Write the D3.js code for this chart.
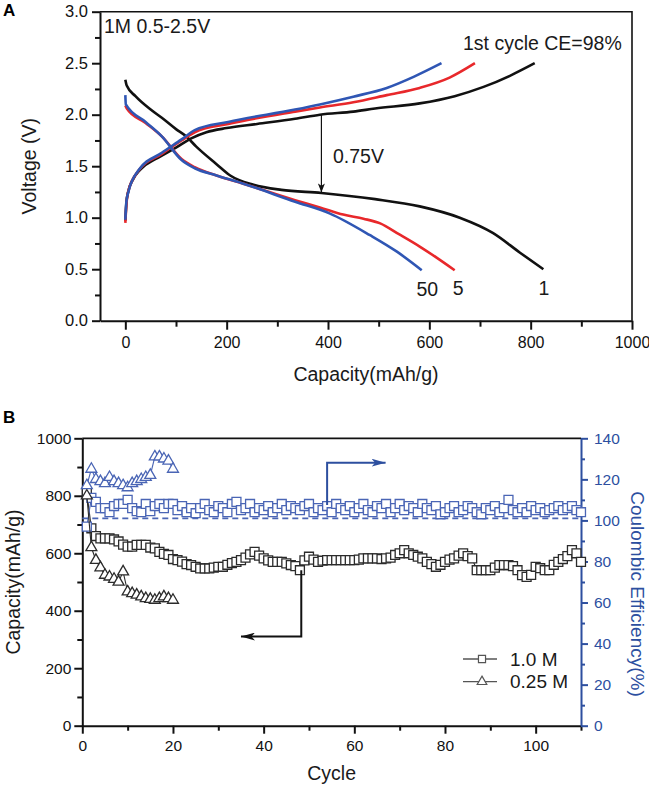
<!DOCTYPE html>
<html>
<head>
<meta charset="utf-8">
<script src="https://cdn.jsdelivr.net/npm/d3@7"></script>
<style>
  body { margin: 0; background: #fff; }
  svg { display: block; font-family: "Liberation Sans", Arial, sans-serif; }
</style>
</head>
<body>
<div id="chart"></div>
<script>
// ---- Panel A: charge / discharge profiles, [capacity mAh/g, voltage V]
const cycle1Charge = [[0,0.97],[2,1.14],[5,1.24],[15,1.37],[30,1.47],[60,1.57],[100,1.68],[130,1.77],[160,1.83],[200,1.87],[260,1.91],[335,1.96],[384,2.0],[450,2.03],[493,2.06],[581,2.11],[650,2.18],[707,2.27],[760,2.38],[808,2.5]];
const cycle1Discharge = [[0,2.34],[3,2.28],[20,2.18],[50,2.05],[72,1.97],[100,1.86],[120,1.79],[140,1.69],[180,1.52],[207,1.41],[253,1.32],[308,1.27],[387,1.24],[493,1.18],[581,1.11],[660,1.0],[726,0.85],[779,0.66],[825,0.5]];
const cycle5Charge = [[0,0.95],[2,1.12],[5,1.24],[25,1.45],[72,1.62],[111,1.75],[137,1.83],[203,1.91],[335,2.03],[384,2.07],[450,2.12],[516,2.19],[581,2.26],[640,2.36],[690,2.5]];
const cycle5Discharge = [[0,2.09],[3,2.06],[40,1.92],[72,1.79],[111,1.57],[137,1.49],[180,1.41],[230,1.335],[335,1.17],[384,1.10],[430,1.03],[470,0.99],[503,0.945],[540,0.84],[581,0.72],[615,0.61],[650,0.49]];
const cycle50Charge = [[0,0.98],[2,1.15],[6,1.25],[26,1.46],[72,1.63],[111,1.76],[137,1.85],[203,1.93],[335,2.05],[384,2.10],[450,2.175],[516,2.26],[570,2.37],[624,2.5]];
const cycle50Discharge = [[0,2.19],[1,2.10],[40,1.93],[72,1.79],[111,1.56],[137,1.48],[180,1.41],[230,1.335],[335,1.155],[404,1.04],[483,0.83],[536,0.67],[585,0.49]];

const xTicksA = [0, 200, 400, 600, 800, 1000];
const xMinorA = [100, 300, 500, 700, 900];
const yTicksA = [0, 0.5, 1.0, 1.5, 2.0, 2.5, 3.0];
const yMinorA = [0.25, 0.75, 1.25, 1.75, 2.25, 2.75];

// ---- Panel B: cycling, capacity (mAh/g) and coulombic efficiency (%)
const cycles1M = d3.range(1, 111);
const capacity1M = [810,687,660,652,652,652,648,641,630,623, 623,629,629,629,620,617,605,598,594,580,
  576,571,562,559,553,547,547,547,550,553, 553,560,566,570,576,585,596,605,592,582,
  575,570,570,570,565,559,555,541,575,588, 578,570,574,576,576,576,576,576,576,576,
  578,582,582,582,582,580,582,585,594,600, 611,600,594,588,582,570,562,553,560,570,
  578,582,592,600,590,582,541,541,541,541, 550,559,559,559,555,541,524,518,525,553,
  548,541,541,560,570,580,590,611,600,570];
const ce1M = [97,111,109,106,106,104,107,108,108,110, 106,104.5,104,108,104.5,107,108,106,108,108,
  105,107,104,106,103.5,106,108,105,104,107, 106,104,108,109,105,106,108,104,106,105,
  107,104,106,108,105,107,106,105,107,108, 104,106,105,107,104,108,106,105,107,104,
  106,108,105,104,107,106,108,104,106,108, 105,107,106,104,108,106,105,107,103,104,
  106,107,104,105,107,106,104,103,106,105, 107,104,106,110,105,104,106,104,107,105,
  106,104,105,106,107,105,106,107,105,104];
const cycles025M = d3.range(1, 21);
const capacity025M = [800,620,576,550,524,518,510,500,536,466, 460,455,449,443,440,437,443,449,443,437];
const ce025M = [117,125,120,119,118,121,119,118,117,116, 118,119,120,121,122,131,131,130,129,125];
const ceReference = 101;

const xTicksB = [0, 20, 40, 60, 80, 100];
const xMinorB = [10, 30, 50, 70, 90, 110];
const yTicksB = [0, 200, 400, 600, 800, 1000];
const yMinorB = [100, 300, 500, 700, 900];
const ceTicks = [0, 20, 40, 60, 80, 100, 120, 140];
const ceMinor = [10, 30, 50, 70, 90, 110, 130];

const legendItems = ['1.0 M', '0.25 M'];

const black = '#111';
const red = '#e8282b';
const blueA = '#2f56b4';
const blueB = '#4a65b5';
const blueAxis = '#2d4f9f';
const gray = '#2b2b2b';

const svg = d3.select('#chart').append('svg')
  .attr('width', 649).attr('height', 787);

const defs = svg.append('defs');
function arrowMarker(id, color, w, h) {
  defs.append('marker')
    .attr('id', id)
    .attr('viewBox', `0 0 ${w} ${h}`)
    .attr('refX', w).attr('refY', h / 2)
    .attr('markerUnits', 'userSpaceOnUse')
    .attr('markerWidth', w).attr('markerHeight', h)
    .attr('orient', 'auto')
    .append('path')
    .attr('d', `M0,0L${w},${h / 2}L0,${h}L${w * 0.25},${h / 2}Z`)
    .attr('fill', color);
}
arrowMarker('arrA', black, 9, 7);
arrowMarker('arrBlue', blueAxis, 14, 8);
arrowMarker('arrBlack', black, 14, 8);

function styleAxis(g, color, size) {
  g.attr('font-family', null).attr('font-size', size);
  g.select('.domain').attr('stroke', color).attr('stroke-width', 2);
  g.selectAll('.tick line').attr('stroke', color).attr('stroke-width', 2);
  g.selectAll('.tick text').attr('fill', color);
}

// ================= Panel A =================
const xA = d3.scaleLinear().domain([-50, 1000]).range([100, 632]);
const yA = d3.scaleLinear().domain([0, 3]).range([320.7, 11.7]);

const gA = svg.append('g');

// frame (top, right)
gA.append('path')
  .attr('d', `M${xA(-50)},${yA(3)}H${xA(1000)}V${yA(0)}`)
  .attr('fill', 'none').attr('stroke', black).attr('stroke-width', 1.6);

gA.append('g')
  .attr('transform', `translate(0,${yA(0)})`)
  .call(d3.axisBottom(xA).tickValues(xMinorA).tickSize(6).tickFormat(''))
  .call(g => { styleAxis(g, black, 16); g.select('.domain').remove(); });
gA.append('g')
  .attr('transform', `translate(0,${yA(0)})`)
  .call(d3.axisBottom(xA).tickValues(xTicksA).tickSize(9).tickPadding(7).tickSizeOuter(0)
    .tickFormat(d3.format('d')))
  .call(g => styleAxis(g, black, 16));

gA.append('g')
  .attr('transform', `translate(${xA(-50)},0)`)
  .call(d3.axisLeft(yA).tickValues(yMinorA).tickSize(5).tickFormat(''))
  .call(g => { styleAxis(g, black, 16); g.select('.domain').remove(); });
gA.append('g')
  .attr('transform', `translate(${xA(-50)},0)`)
  .call(d3.axisLeft(yA).tickValues(yTicksA).tickSize(8).tickPadding(4).tickSizeOuter(0)
    .tickFormat(d3.format('.1f')))
  .call(g => styleAxis(g, black, 16.5));

const lineA = d3.line()
  .x(d => xA(d[0])).y(d => yA(d[1]))
  .curve(d3.curveMonotoneX);

const curvesA = [
  { data: cycle1Charge, color: black },
  { data: cycle1Discharge, color: black },
  { data: cycle5Charge, color: red },
  { data: cycle5Discharge, color: red },
  { data: cycle50Charge, color: blueA },
  { data: cycle50Discharge, color: blueA }
];
gA.selectAll('path.curve')
  .data(curvesA)
  .enter()
  .append('path')
  .attr('class', 'curve')
  .attr('d', d => lineA(d.data))
  .attr('fill', 'none')
  .attr('stroke', d => d.color)
  .attr('stroke-width', 2.6)
  .attr('stroke-linejoin', 'round');

// 0.75 V gap arrow
gA.append('line')
  .attr('x1', xA(387)).attr('y1', yA(2.0))
  .attr('x2', xA(387)).attr('y2', yA(1.245))
  .attr('stroke', black).attr('stroke-width', 1.2)
  .attr('marker-end', 'url(#arrA)');

const textA = [
  { t: '1M 0.5-2.5V', x: 104, y: 33, anchor: 'start' },
  { t: '1st cycle CE=98%', x: 463, y: 50, anchor: 'start' },
  { t: '0.75V', x: 333, y: 163, anchor: 'start' },
  { t: '50', x: xA(596), y: yA(0.24), anchor: 'middle' },
  { t: '5', x: xA(657), y: yA(0.245), anchor: 'middle' },
  { t: '1', x: xA(826), y: yA(0.245), anchor: 'middle' }
];
gA.selectAll('text.note')
  .data(textA)
  .enter()
  .append('text')
  .attr('class', 'note')
  .attr('x', d => d.x).attr('y', d => d.y)
  .attr('text-anchor', d => d.anchor)
  .attr('font-size', 19.5)
  .attr('fill', '#1a1a1a')
  .text(d => d.t);

gA.append('text')
  .attr('transform', `translate(29,${(yA(0) + yA(3)) / 2}) rotate(-90)`)
  .attr('text-anchor', 'middle').attr('dominant-baseline', 'central')
  .attr('font-size', 19.5).attr('fill', '#1a1a1a')
  .text('Voltage (V)');
gA.append('text')
  .attr('x', (xA(-50) + xA(1000)) / 2).attr('y', 381)
  .attr('text-anchor', 'middle')
  .attr('font-size', 19.5).attr('fill', '#1a1a1a')
  .text('Capacity(mAh/g)');

svg.append('text').attr('x', 3).attr('y', 16)
  .attr('font-size', 17).attr('font-weight', 'bold').text('A');

// ================= Panel B =================
const xB = d3.scaleLinear().domain([0, 110]).range([82.3, 581]);
const yB = d3.scaleLinear().domain([0, 1000]).range([725.7, 438.3]);
const yCE = d3.scaleLinear().domain([0, 140]).range([725.7, 438.3]);

const gB = svg.append('g');

gB.append('line')
  .attr('x1', xB(0)).attr('x2', xB(110))
  .attr('y1', yB(1000)).attr('y2', yB(1000))
  .attr('stroke', black).attr('stroke-width', 1.8);

gB.append('g')
  .attr('transform', `translate(0,${yB(0)})`)
  .call(d3.axisBottom(xB).tickValues(xMinorB).tickSize(5).tickFormat(''))
  .call(g => { styleAxis(g, black, 15.5); g.select('.domain').remove(); });
gB.append('g')
  .attr('transform', `translate(0,${yB(0)})`)
  .call(d3.axisBottom(xB).tickValues(xTicksB).tickSize(8).tickPadding(6).tickSizeOuter(0)
    .tickFormat(d3.format('d')))
  .call(g => styleAxis(g, black, 15.5));

gB.append('g')
  .attr('transform', `translate(${xB(0)},0)`)
  .call(d3.axisLeft(yB).tickValues(yMinorB).tickSize(5).tickFormat(''))
  .call(g => { styleAxis(g, black, 15.5); g.select('.domain').remove(); });
gB.append('g')
  .attr('transform', `translate(${xB(0)},0)`)
  .call(d3.axisLeft(yB).tickValues(yTicksB).tickSize(8).tickPadding(3).tickSizeOuter(0)
    .tickFormat(d3.format('d')))
  .call(g => styleAxis(g, black, 15.5));

gB.append('g')
  .attr('transform', `translate(${xB(110)},0)`)
  .call(d3.axisRight(yCE).tickValues(ceMinor).tickSize(4).tickFormat(''))
  .call(g => { styleAxis(g, blueAxis, 15.5); g.select('.domain').remove(); });
gB.append('g')
  .attr('transform', `translate(${xB(110)},0)`)
  .call(d3.axisRight(yCE).tickValues(ceTicks).tickSize(7).tickPadding(6).tickSizeOuter(0))
  .call(g => styleAxis(g, blueAxis, 15.5));

// reference CE line
gB.append('line')
  .attr('x1', xB(0)).attr('x2', xB(110))
  .attr('y1', yCE(ceReference)).attr('y2', yCE(ceReference))
  .attr('stroke', blueB).attr('stroke-width', 1.6)
  .attr('stroke-dasharray', '6,4');

const squareSym = d3.symbol(d3.symbolSquare).size(80);
const triSym = d3.symbol(d3.symbolTriangle).size(52);

function drawSeries(xs, ys, yScale, color, sym) {
  const pts = xs.map((c, i) => [c, ys[i]]);
  gB.append('path')
    .attr('d', d3.line().x(d => xB(d[0])).y(d => yScale(d[1]))(pts))
    .attr('fill', 'none').attr('stroke', color).attr('stroke-width', 1.1);
  gB.append('g').selectAll('path')
    .data(pts)
    .enter()
    .append('path')
    .attr('transform', d => `translate(${xB(d[0])},${yScale(d[1])})`)
    .attr('d', sym)
    .attr('fill', '#fff')
    .attr('stroke', color)
    .attr('stroke-width', 1.3);
}
drawSeries(cycles1M, capacity1M, yB, gray, squareSym);
drawSeries(cycles1M, ce1M, yCE, blueB, squareSym);
drawSeries(cycles025M, capacity025M, yB, gray, triSym);
drawSeries(cycles025M, ce025M, yCE, blueB, triSym);

// guide arrows
const blueArrow = [[54, 107.5], [54, 128.1], [66.9, 128.1]];
const blackArrow = [[48.3, 541], [48.3, 310], [35, 310]];
gB.append('path')
  .attr('d', d3.line().x(d => xB(d[0])).y(d => yCE(d[1]))(blueArrow))
  .attr('fill', 'none').attr('stroke', blueAxis).attr('stroke-width', 2)
  .attr('marker-end', 'url(#arrBlue)');
gB.append('path')
  .attr('d', d3.line().x(d => xB(d[0])).y(d => yB(d[1]))(blackArrow))
  .attr('fill', 'none').attr('stroke', black).attr('stroke-width', 2)
  .attr('marker-end', 'url(#arrBlack)');

// legend
const legend = gB.append('g').attr('transform', 'translate(463,659)');
legendItems.forEach((name, i) => {
  const row = legend.append('g').attr('transform', `translate(0,${i * 22.7})`);
  row.append('line').attr('x1', 0).attr('x2', 34).attr('y1', 0).attr('y2', 0)
    .attr('stroke', '#555').attr('stroke-width', 1.3);
  row.append('path')
    .attr('transform', 'translate(19,0)')
    .attr('d', i === 0 ? d3.symbol(d3.symbolSquare).size(50)() : d3.symbol(d3.symbolTriangle).size(40)())
    .attr('fill', '#fff').attr('stroke', '#555').attr('stroke-width', 1.2);
  row.append('text').attr('x', 47).attr('y', 0)
    .attr('dominant-baseline', 'central')
    .attr('font-size', 19).attr('fill', '#1a1a1a')
    .text(name);
});

gB.append('text')
  .attr('transform', `translate(13,${(yB(0) + yB(1000)) / 2}) rotate(-90)`)
  .attr('text-anchor', 'middle').attr('dominant-baseline', 'central')
  .attr('font-size', 19.5).attr('fill', '#1a1a1a')
  .text('Capacity(mAh/g)');
gB.append('text')
  .attr('x', (xB(0) + xB(110)) / 2).attr('y', 780)
  .attr('text-anchor', 'middle')
  .attr('font-size', 19.5).attr('fill', '#1a1a1a')
  .text('Cycle');
gB.append('text')
  .attr('transform', 'translate(637,594) rotate(90)')
  .attr('text-anchor', 'middle').attr('dominant-baseline', 'central')
  .attr('font-size', 19).attr('fill', blueAxis)
  .text('Coulombic Efficiency(%)');

svg.append('text').attr('x', 3).attr('y', 423)
  .attr('font-size', 17).attr('font-weight', 'bold').text('B');
</script>
</body>
</html>
